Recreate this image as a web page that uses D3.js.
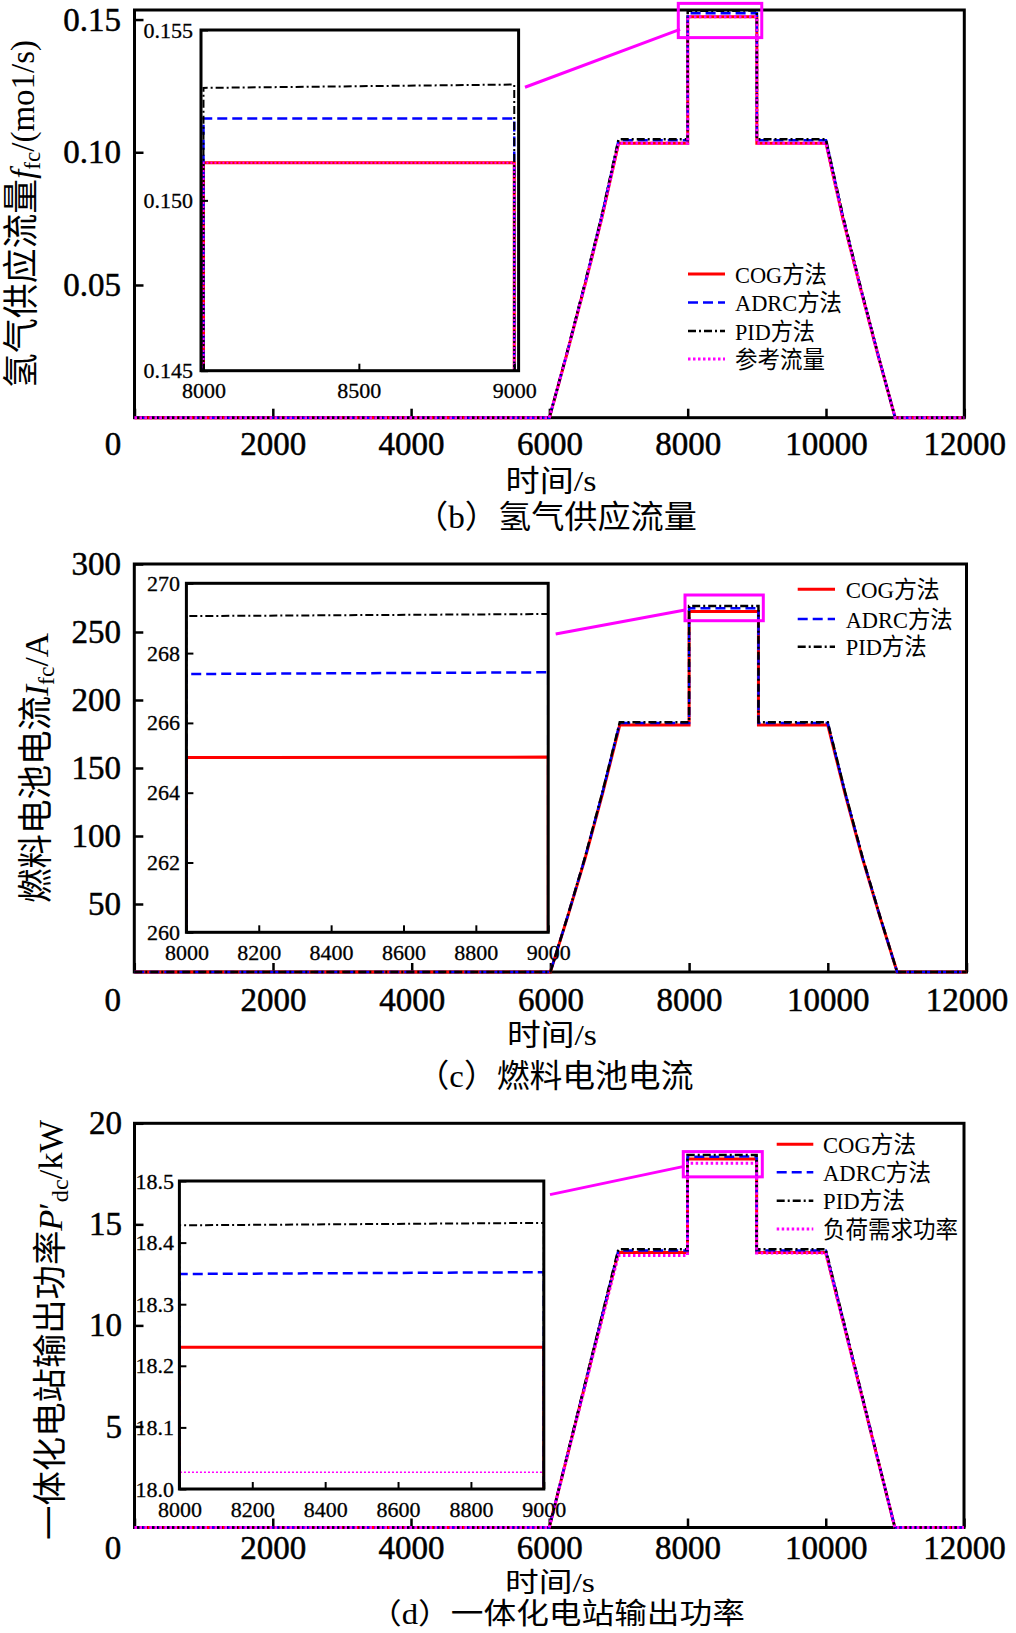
<!DOCTYPE html>
<html><head><meta charset="utf-8">
<script src="https://cdn.jsdelivr.net/npm/d3@7"></script>
<style>
body{margin:0;background:#fff;}
svg{display:block;}
text{font-family:"Liberation Serif","Times New Roman","Noto Sans CJK SC",serif;fill:#000;}
</style></head><body>
<svg id="c" width="1016" height="1633"></svg>
<script>
// ---------------- data ----------------
const time = [0,6000,6250,6500,6750,7000,8000,8000,9000,9000,10000,10250,10500,10750,11000,12000];

const flowCOG  = [0,0,0.0238,0.0486,0.0744,0.1034,0.1034,0.1511,0.1511,0.1034,0.1034,0.0744,0.0486,0.0238,0,0];
const flowADRC = [0,0,0.0240,0.0491,0.0752,0.1045,0.1045,0.1524,0.1524,0.1045,0.1045,0.0752,0.0491,0.0240,0,0];
const flowPID  = [0,0,0.0241,0.0493,0.0755,0.1049,0.1049,0.1533,0.1534,0.1049,0.1049,0.0755,0.0493,0.0241,0,0];
const flowRef  = [0,0,0.0238,0.0486,0.0744,0.1034,0.1034,0.1511,0.1511,0.1034,0.1034,0.0744,0.0486,0.0238,0,0];

const curCOG  = [0,0,40.9,83.5,130.8,181.6,181.6,265.01,265.02,181.6,181.6,130.8,83.5,40.9,0,0];
const curADRC = [0,0,41.2,84.2,131.8,183.0,183.0,267.40,267.45,183.0,183.0,131.8,84.2,41.2,0,0];
const curPID  = [0,0,41.3,84.5,132.2,183.6,183.6,269.06,269.12,183.6,183.6,132.2,84.5,41.3,0,0];

const powCOG  = [0,0,3.40,6.81,10.21,13.61,13.61,18.230,18.230,13.61,13.61,10.21,6.81,3.40,0,0];
const powADRC = [0,0,3.43,6.85,10.28,13.70,13.70,18.349,18.352,13.70,13.70,10.28,6.85,3.43,0,0];
const powPID  = [0,0,3.44,6.89,10.33,13.77,13.77,18.428,18.432,13.77,13.77,10.33,6.89,3.44,0,0];
const powLoad = [0,0,3.37,6.73,10.10,13.46,13.46,18.027,18.027,13.58,13.58,10.19,6.79,3.40,0,0];

const xTicksMain = [0,2000,4000,6000,8000,10000,12000];
const yTicksB = [0.05,0.10,0.15];
const yTicksC = [50,100,150,200,250,300];
const yTicksD = [5,10,15,20];
const insetXTicksB = [8000,8500,9000];
const insetYTicksB = [0.145,0.150,0.155];
const insetXTicksCD = [8000,8200,8400,8600,8800,9000];
const insetYTicksC = [260,262,264,266,268,270];
const insetYTicksD = [18.0,18.1,18.2,18.3,18.4,18.5];

const legendB = ["COG方法","ADRC方法","PID方法","参考流量"];
const legendC = ["COG方法","ADRC方法","PID方法"];
const legendD = ["COG方法","ADRC方法","PID方法","负荷需求功率"];

// ---------------- styles ----------------
const STY = {
  cog:  {color:"#ff0000", w:3,   dash:null},
  adrc: {color:"#0000ff", w:2.5, dash:"10,5"},
  pid:  {color:"#000000", w:2.5, dash:"8,3,2,3"},
  ref:  {color:"#ff00ff", w:3,   dash:"2.5,2.5"}
};

const svg = d3.select("#c");
svg.append("rect").attr("width",1016).attr("height",1633).attr("fill","#fff");

function fitText(cx, cy, parts, target, rot, base){
  const g = svg.append("g").attr("transform", `translate(${cx},${cy})` + (rot ? " rotate(-90)" : ""));
  const t = g.append("text").attr("text-anchor","middle").attr("y", base*0.36).attr("font-size", base);
  parts.forEach(pt => {
    const s = t.append("tspan").text(pt.t);
    if (pt.size) s.attr("font-size", pt.size);
    if (pt.italic) s.attr("font-style","italic");
    if (pt.dy) s.attr("dy", pt.dy);
  });
  const L = t.node().getComputedTextLength();
  t.attr("transform", `scale(${target/L},1)`);
}

function styleLine(sel, st, wOverride, dashOverride){
  sel.attr("fill","none").attr("stroke", st.color)
     .attr("stroke-width", wOverride || st.w)
     .attr("stroke-linejoin","miter");
  const d = dashOverride || st.dash;
  if (d) sel.attr("stroke-dasharray", d);
}

let clipId = 0;
function drawPanel(p){
  const g = svg.append("g");
  const x = d3.scaleLinear().domain([0,12000]).range([p.left, p.right]);
  const y = d3.scaleLinear().domain(p.yDomain).range([p.bottom, p.top]);

  // frame
  g.append("rect").attr("x",p.left).attr("y",p.top)
    .attr("width",p.right-p.left).attr("height",p.bottom-p.top)
    .attr("fill","none").attr("stroke","#000").attr("stroke-width",3);

  // axes
  const ya = g.append("g").attr("transform",`translate(${p.left},0)`)
    .call(d3.axisLeft(y).tickValues(p.yTicks).tickSize(-9).tickPadding(p.yPad).tickFormat(d3.format(p.yFmt)));
  const xa = g.append("g").attr("transform",`translate(0,${p.bottom})`)
    .call(d3.axisBottom(x).tickValues(xTicksMain).tickSize(-9).tickPadding(p.xPad).tickFormat(d3.format("d")));
  [ya, xa].forEach(a => {
    a.select(".domain").remove();
    a.selectAll("line").attr("stroke","#000").attr("stroke-width",2.5);
    a.selectAll("text").attr("font-size",33).attr("font-family",null)
      .attr("stroke","#000").attr("stroke-width",0.5);
  });
  xa.selectAll(".tick").filter(d => d === 0).select("text").attr("x",-22);

  // main lines
  const line = d3.line().x(d => x(d[0])).y(d => y(d[1]));
  p.series.forEach(s => {
    g.append("path").datum(d3.zip(time, s.vals)).attr("d", line).call(styleLine, STY[s.sty]);
  });

  // inset
  const ix = d3.scaleLinear().domain(p.inset.xDomain).range([p.inset.left, p.inset.right]);
  const iy = d3.scaleLinear().domain(p.inset.yDomain).range([p.inset.bottom, p.inset.top]);
  const ig = svg.append("g");
  ig.append("rect").attr("x",p.inset.left).attr("y",p.inset.top)
    .attr("width",p.inset.right-p.inset.left).attr("height",p.inset.bottom-p.inset.top)
    .attr("fill","#fff");
  const cid = "clip" + (clipId++);
  svg.append("clipPath").attr("id",cid).append("rect")
    .attr("x",p.inset.left).attr("y",p.inset.top)
    .attr("width",p.inset.right-p.inset.left).attr("height",p.inset.bottom-p.inset.top);
  const iline = d3.line().x(d => ix(d[0])).y(d => iy(d[1]));
  const lg = ig.append("g").attr("clip-path",`url(#${cid})`);
  p.series.forEach(s => {
    const st = STY[s.sty];
    lg.append("path").datum(d3.zip(time, s.vals)).attr("d", iline)
      .call(styleLine, st, s.sty === "ref" ? p.inset.refW : (s.sty==="pid"?2:null), s.sty === "ref" ? p.inset.refDash : null);
  });
  ig.append("rect").attr("x",p.inset.left).attr("y",p.inset.top)
    .attr("width",p.inset.right-p.inset.left).attr("height",p.inset.bottom-p.inset.top)
    .attr("fill","none").attr("stroke","#000").attr("stroke-width",3);
  const iya = ig.append("g").attr("transform",`translate(${p.inset.left},0)`)
    .call(d3.axisLeft(iy).tickValues(p.inset.yTicks).tickSize(-7).tickPadding(p.inset.yPad).tickFormat(d3.format(p.inset.yFmt)));
  const ixa = ig.append("g").attr("transform",`translate(0,${p.inset.bottom})`)
    .call(d3.axisBottom(ix).tickValues(p.inset.xTicks).tickSize(-7).tickPadding(p.inset.xPad).tickFormat(d3.format("d")));
  [iya, ixa].forEach(a => {
    a.select(".domain").remove();
    a.selectAll("line").attr("stroke","#000").attr("stroke-width",2);
    a.selectAll("text").attr("font-size",22).attr("font-family",null)
      .attr("stroke","#000").attr("stroke-width",0.3);
  });

  // zoom annotation
  const z = p.zoom;
  svg.append("rect").attr("x",x(z.box[0])).attr("y",y(z.box[3]))
    .attr("width",x(z.box[1])-x(z.box[0])).attr("height",y(z.box[2])-y(z.box[3]))
    .attr("fill","none").attr("stroke","#ff00ff").attr("stroke-width",3);
  svg.append("line").attr("x1",x(z.link[0])).attr("y1",y(z.link[1]))
    .attr("x2",x(z.link[2])).attr("y2",y(z.link[3]))
    .attr("stroke","#ff00ff").attr("stroke-width",3);

  // legend
  const L = p.legend;
  p.series.forEach((s,i) => {
    const ry = L.rows[i];
    svg.append("line").attr("x1",L.x0).attr("x2",L.x1).attr("y1",ry).attr("y2",ry)
      .call(styleLine, STY[s.sty]);
    svg.append("text").attr("x",L.tx).attr("y",ry+8.5).attr("font-size",24)
      .attr("textLength",L.widths[i]).attr("lengthAdjust","spacingAndGlyphs")
      .text(s.name);
  });

  // titles
  fitText(p.yTitle.cx, p.yTitle.cy, p.yTitle.parts, p.yTitle.len, true, 34);
  fitText(p.xTitle.cx, p.xTitle.cy, [{t:"时间/s"}], p.xTitle.len, false, p.xTitle.fs);
  fitText(p.cap.cx, p.cap.cy, [{t:p.cap.text}], p.cap.len, false, p.cap.fs);
}

const panels = [
 {
  left:134.5, right:964.3, top:10, bottom:417.7, yDomain:[0,0.1536],
  yTicks:yTicksB, yFmt:".2f", yPad:13.5, xPad:13.8,
  series:[{name:legendB[0],vals:flowCOG,sty:"cog"},{name:legendB[1],vals:flowADRC,sty:"adrc"},
          {name:legendB[2],vals:flowPID,sty:"pid"},{name:legendB[3],vals:flowRef,sty:"ref"}],
  inset:{left:201,right:518.6,top:30,bottom:370.7,xDomain:[7992,9014],yDomain:[0.145,0.155],
         xTicks:insetXTicksB,yTicks:insetYTicksB,yFmt:".3f",yPad:8,xPad:11.8,refW:2,refDash:"2,2"},
  zoom:{box:[7864,9071,0.1432,0.1561], link:[5647,0.1245,7889,0.1463]},
  legend:{x0:688,x1:725,tx:735,rows:[274,302.5,331,359],widths:[92,107,80,90]},
  yTitle:{cx:22,cy:214,len:348,parts:[{t:"氢气供应流量",size:36},{t:"f",italic:true},{t:"fc",size:24,dy:6},{t:"/(mo1/s)",dy:-6}]},
  xTitle:{cx:551,cy:480,len:91,fs:30},
  cap:{cx:556,cy:516,len:282,text:"（b）氢气供应流量",fs:32}
 },
 {
  left:134.3, right:966.5, top:564, bottom:972, yDomain:[0,300],
  yTicks:yTicksC, yFmt:"d", yPad:13.3, xPad:15.3,
  series:[{name:legendC[0],vals:curCOG,sty:"cog"},{name:legendC[1],vals:curADRC,sty:"adrc"},
          {name:legendC[2],vals:curPID,sty:"pid"}],
  inset:{left:186.4,right:548.2,top:583.3,bottom:932.3,xDomain:[8000,9000],yDomain:[260,270],
         xTicks:insetXTicksCD,yTicks:insetYTicksC,yFmt:"d",yPad:6.4,xPad:12.5,refW:2,refDash:"2,2"},
  zoom:{box:[7941,9070,258.3,277.2], link:[6076,248.5,7941,266.2]},
  legend:{x0:797.7,x1:835,tx:845.7,rows:[589.3,619,646.7],widths:[94,107,81]},
  yTitle:{cx:36,cy:768,len:270,parts:[{t:"燃料电池电流",size:35},{t:"I",italic:true},{t:"fc",size:24,dy:6},{t:"/A",dy:-6}]},
  xTitle:{cx:552,cy:1034,len:90,fs:30},
  cap:{cx:555,cy:1075,len:277,text:"（c）燃料电池电流",fs:32}
 },
 {
  left:134.5, right:964, top:1123.3, bottom:1527.5, yDomain:[0,20],
  yTicks:yTicksD, yFmt:"d", yPad:12.5, xPad:8.3,
  series:[{name:legendD[0],vals:powCOG,sty:"cog"},{name:legendD[1],vals:powADRC,sty:"adrc"},
          {name:legendD[2],vals:powPID,sty:"pid"},{name:legendD[3],vals:powLoad,sty:"ref"}],
  inset:{left:179.4,right:543.8,top:1181,bottom:1489,xDomain:[8000,9000],yDomain:[18.0,18.5],
         xTicks:insetXTicksCD,yTicks:insetYTicksD,yFmt:".1f",yPad:5.4,xPad:12.5,refW:1.5,refDash:"2,2"},
  zoom:{box:[7939,9082,17.35,18.60], link:[6011,16.47,7949,17.87]},
  legend:{x0:776.7,x1:813.3,tx:823,rows:[1144.3,1172.3,1200.7,1229],widths:[93,108,82,135]},
  yTitle:{cx:50,cy:1330,len:420,parts:[{t:"一体化电站输出功率",size:34},{t:"P",italic:true},{t:"′"},{t:"dc",size:24,dy:6},{t:"/kW",dy:-6}]},
  xTitle:{cx:550,cy:1582,len:90,fs:27},
  cap:{cx:557,cy:1614,len:376,text:"（d）一体化电站输出功率",fs:29}
 }
];

panels.forEach(drawPanel);
</script>
</body></html>
